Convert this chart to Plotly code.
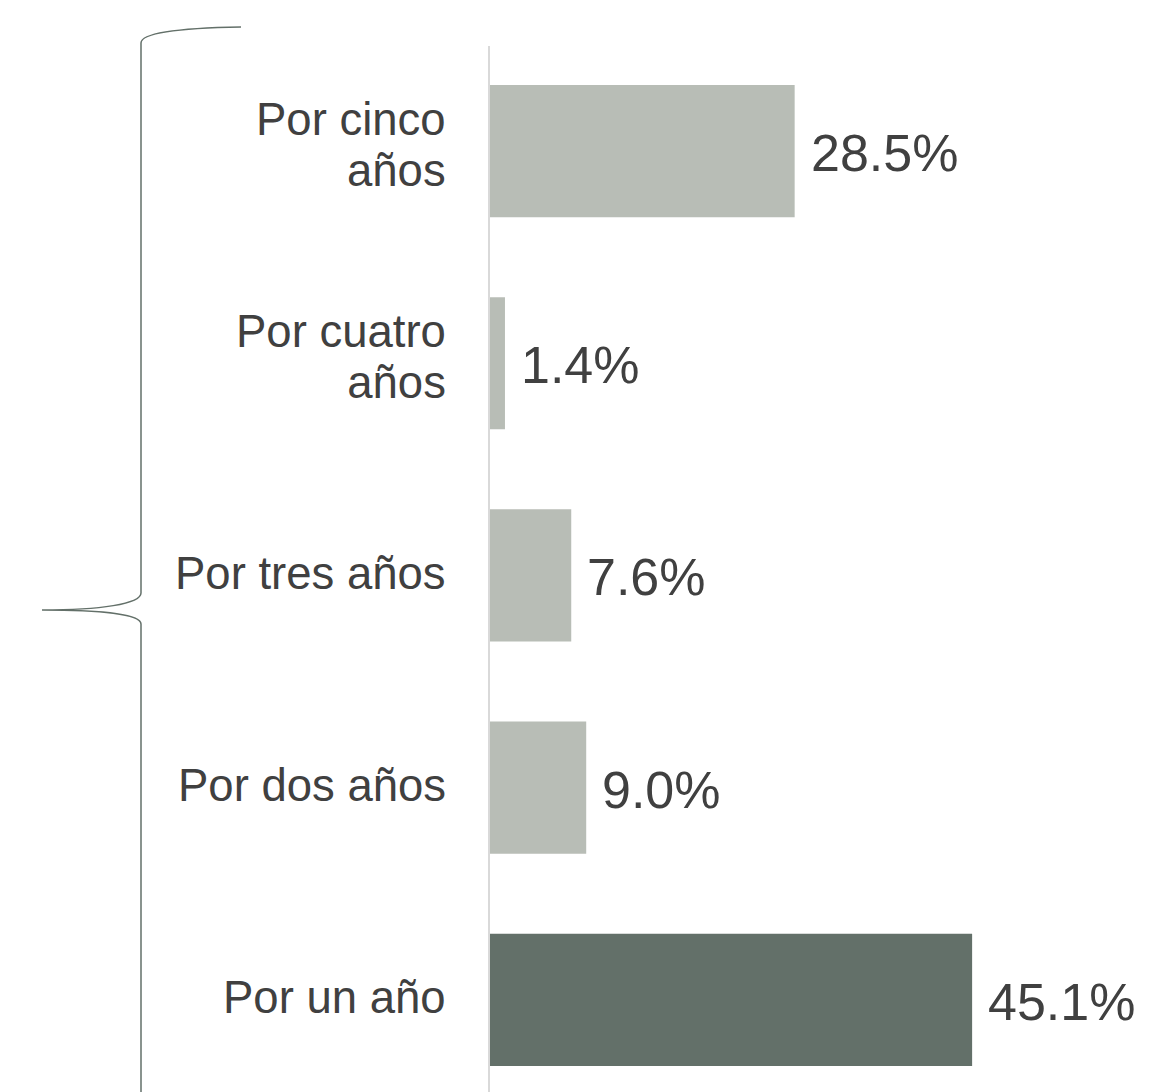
import plotly.graph_objects as go

# Data (bottom to top)
categories = ["Por un año", "Por dos años", "Por tres años", "Por cuatro años", "Por cinco años"]
tick_labels = ["Por un año", "Por dos años", "Por tres años", "Por cuatro<br>años", "Por cinco<br>años"]
values = [45.1, 9.0, 7.6, 1.4, 28.5]
highlight = ["Por un año"]

OFF = 8  # default page body margin
W, H = 1149 - OFF, 1092 - OFF
ML, MR, MT, MB = 490 - OFF, 0, 46 - OFF, 0
PX_PER_UNIT = 10.69
LABEL_COLOR = "#404040"
DARK = "#637069"
LIGHT = "#b8bdb6"
FONT = "Liberation Sans, Arial, sans-serif"
LABEL_SIZE = 45.5
LINE_H = 51

colors = [DARK if c in highlight else LIGHT for c in categories]

fig = go.Figure(go.Bar(
    y=categories, x=values, orientation="h",
    marker=dict(color=colors, line=dict(width=0)),
    hoverinfo="skip",
))

plot_w = W - ML - MR
plot_h = H - MT - MB

annotations = []
for cat, lab in zip(categories, tick_labels):
    lines = lab.split("<br>")
    n = len(lines)
    txt = "<br>".join(f"<span style='font-size:{LABEL_SIZE}px'>{ln}</span>" for ln in lines)
    annotations.append(dict(
        x=0, y=cat, xref="x", yref="y", text=txt, showarrow=False,
        xanchor="right", yanchor="middle", align="right", xshift=-42,
        yshift=2 + (n - 1) * 4,
        # base size sets the line spacing (1.3 em)
        font=dict(size=LINE_H / 1.3, color=LABEL_COLOR, family=FONT),
    ))
for cat, v in zip(categories, values):
    annotations.append(dict(
        x=v, y=cat, xref="x", yref="y", text=f"{v:.1f}%", showarrow=False,
        xanchor="left", yanchor="middle", xshift=14, yshift=-2,
        font=dict(size=52, color=LABEL_COLOR, family=FONT),
    ))

# brace (decorative), screenshot pixel -> paper conversion
def px(xp):
    return (xp - OFF - ML) / plot_w

def py(yp):
    return (H - MB - (yp - OFF)) / plot_h

brace = (
    f"M {px(241)},{py(27)} "
    f"C {px(180)},{py(28)} {px(141)},{py(33)} {px(141)},{py(43)} "
    f"L {px(141)},{py(593)} "
    f"C {px(141)},{py(604)} {px(100)},{py(610)} {px(42)},{py(610)} "
    f"C {px(100)},{py(610)} {px(141)},{py(614)} {px(141)},{py(624)} "
    f"L {px(141)},{py(1100)}"
)

fig.update_layout(
    width=W, height=H,
    margin=dict(l=ML, r=MR, t=MT, b=MB, pad=0),
    paper_bgcolor="white", plot_bgcolor="white",
    showlegend=False,
    bargap=0.377,
    font=dict(family=FONT, color=LABEL_COLOR),
    xaxis=dict(range=[0, plot_w / PX_PER_UNIT], visible=False, fixedrange=True),
    yaxis=dict(
        categoryorder="array", categoryarray=categories,
        range=[-0.434, 4.495], showticklabels=False, ticks="",
        showgrid=False, zeroline=False,
        showline=True, linecolor="#d9d9d9", linewidth=2,
        fixedrange=True,
    ),
    annotations=annotations,
    shapes=[dict(type="path", path=brace, xref="paper", yref="paper",
                 line=dict(color=DARK, width=1.5), layer="above")],
)

fig.write_html("out.html")
